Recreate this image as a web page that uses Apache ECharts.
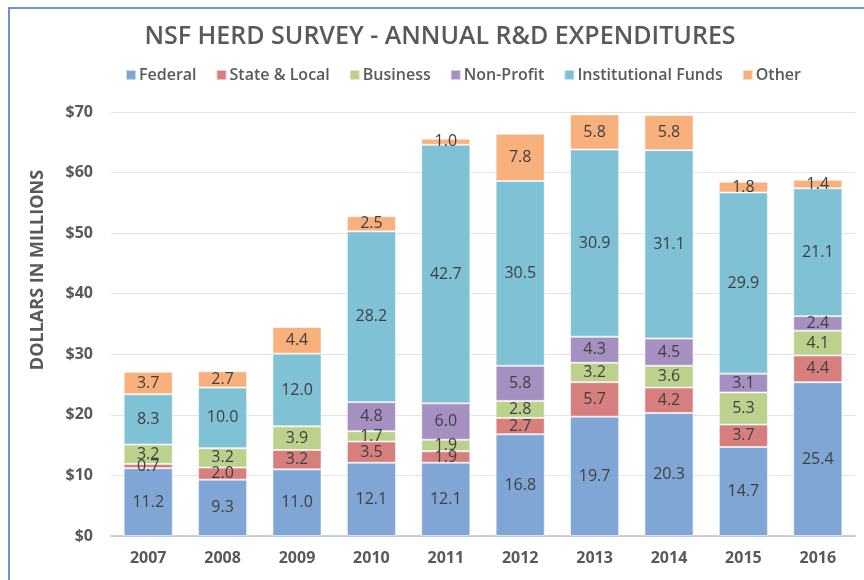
<!DOCTYPE html>
<html>
<head>
<meta charset="utf-8">
<script src="https://cdn.jsdelivr.net/npm/echarts@6/dist/echarts.min.js"></script>
<style>
    html, body { margin: 0; padding: 0; background: #fff; }
    #main { width: 864px; height: 580px; }
</style>
</head>
<body>
<div id="main"></div>
<script>
// data
const years = ['2007', '2008', '2009', '2010', '2011', '2012', '2013', '2014', '2015', '2016'];
const federal = [11.2, 9.3, 11.0, 12.1, 12.1, 16.8, 19.7, 20.3, 14.7, 25.4];
const stateLocal = [0.7, 2.0, 3.2, 3.5, 1.9, 2.7, 5.7, 4.2, 3.7, 4.4];
const business = [3.2, 3.2, 3.9, 1.7, 1.9, 2.8, 3.2, 3.6, 5.3, 4.1];
const nonProfit = [0, 0, 0, 4.8, 6.0, 5.8, 4.3, 4.5, 3.1, 2.4];
const institutional = [8.3, 10.0, 12.0, 28.2, 42.7, 30.5, 30.9, 31.1, 29.9, 21.1];
const other = [3.7, 2.7, 4.4, 2.5, 1.0, 7.8, 5.8, 5.8, 1.8, 1.4];

const seriesDefs = [
    { name: 'Federal', data: federal, color: '#7FA6D4' },
    { name: 'State & Local', data: stateLocal, color: '#D77F7E' },
    { name: 'Business', data: business, color: '#BCD18C' },
    { name: 'Non-Profit', data: nonProfit, color: '#A690C2' },
    { name: 'Institutional Funds', data: institutional, color: '#7FC2D5' },
    { name: 'Other', data: other, color: '#F8B07D' }
];

const font = '"Open Sans", "DejaVu Sans", sans-serif';
const myChart = echarts.init(document.getElementById('main'));

const option = {
    animation: false,
    color: seriesDefs.map(s => s.color),
    title: {
        text: 'NSF HERD SURVEY - ANNUAL R&D EXPENDITURES',
        left: 435,
        textAlign: 'center',
        top: 19,
        textStyle: {
            color: '#595959',
            fontSize: 25,
            fontWeight: 600,
            fontFamily: font
        }
    },
    legend: {
        top: 62,
        left: 120,
        width: 740,
        itemWidth: 10,
        itemHeight: 10,
        itemGap: 19,
        icon: 'rect',
        textStyle: {
            color: '#595959',
            fontSize: 16,
            fontWeight: 600,
            fontFamily: font,
            padding: [0, 0, 0, -2]
        }
    },
    grid: {
        left: 111,
        right: 9,
        top: 112,
        bottom: 44
    },
    xAxis: {
        type: 'category',
        data: years,
        axisTick: { show: false },
        axisLine: { lineStyle: { color: '#BFBFBF', width: 1.5 } },
        axisLabel: {
            color: '#595959',
            fontSize: 16,
            fontWeight: 'bold',
            fontFamily: font,
            margin: 14
        }
    },
    yAxis: {
        type: 'value',
        min: 0,
        max: 70,
        interval: 10,
        axisLine: { show: false },
        axisTick: { show: false },
        splitLine: { lineStyle: { color: '#E3E3E3' } },
        axisLabel: {
            color: '#595959',
            fontSize: 16,
            fontWeight: 'bold',
            fontFamily: font,
            margin: 18,
            formatter: v => '$' + v
        }
    },
    graphic: [
        {
            type: 'rect',
            shape: { x: 9, y: 8, width: 900, height: 620 },
            style: { fill: 'none', stroke: '#6A93CC', lineWidth: 2 },
            silent: true
        },
        {
            type: 'text',
            x: 38,
            y: 270,
            rotation: Math.PI / 2,
            style: {
                text: 'DOLLARS IN MILLIONS',
                fill: '#595959',
                font: 'bold 18px ' + font,
                align: 'center',
                verticalAlign: 'middle'
            }
        }
    ],
    series: seriesDefs.map(s => ({
        name: s.name,
        type: 'bar',
        stack: 'total',
        barWidth: '66%',
        data: s.data,
        itemStyle: {
            color: s.color,
            borderColor: 'rgba(255,255,255,0.55)',
            borderWidth: 1
        },
        label: {
            show: true,
            position: 'inside',
            color: '#404040',
            fontSize: 16,
            fontFamily: font,
            formatter: p => (p.value ? p.value.toFixed(1) : '')
        }
    }))
};

myChart.setOption(option);
</script>
</body>
</html>
